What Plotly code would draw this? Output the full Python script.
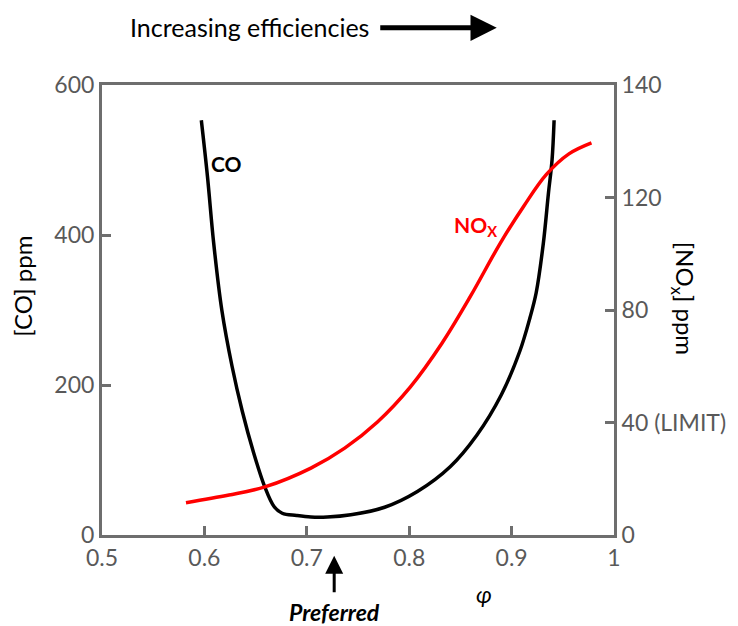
import plotly.graph_objects as go

# Equivalence ratio (phi) samples and emissions
phi_co = [0.597, 0.603, 0.609, 0.617, 0.627, 0.637, 0.648, 0.659, 0.668, 0.676,
          0.690, 0.704, 0.720, 0.743, 0.776, 0.808, 0.840, 0.866, 0.890, 0.908,
          0.918, 0.924, 0.931, 0.936, 0.9395, 0.9415]
co_ppm = [553, 478, 390, 300, 225, 165, 110, 64, 38, 29,
          26, 24, 24, 27, 37, 58, 91, 133, 187, 245,
          290, 323, 389, 456, 500, 553]

phi_nox = [0.582, 0.624, 0.659, 0.704, 0.737, 0.769, 0.801, 0.832, 0.860,
           0.889, 0.912, 0.934, 0.956, 0.978]
nox_ppm = [11.5, 14.2, 17.1, 23.8, 30.9, 40.2, 52.6, 68.2, 85,
           103.8, 117.0, 128.2, 135.5, 139.4]

x_ticks = [0.5, 0.6, 0.7, 0.8, 0.9, 1.0]
x_ticktext = ["0.5", "0.6", "0.7", "0.8", "0.9", "1"]
co_ticks = [0, 200, 400, 600]
nox_ticks = [0, 40, 80, 120, 160]
nox_ticktext = ["0", "40 (LIMIT)", "80", "120", "140"]

FONT = "Lato"
AXIS_GREY = "#6e6e6e"
TICK_GREY = "#595959"

fig = go.Figure()
fig.add_trace(go.Scatter(x=phi_co, y=co_ppm, mode="lines", name="CO",
                         line=dict(color="black", width=3.5, shape="spline", smoothing=1.0),
                         yaxis="y"))
fig.add_trace(go.Scatter(x=phi_nox, y=nox_ppm, mode="lines", name="NOx",
                         line=dict(color="#ff0000", width=3.5, shape="spline", smoothing=1.0),
                         yaxis="y2"))

axis_common = dict(showgrid=False, zeroline=False, showline=True, linecolor=AXIS_GREY,
                   linewidth=3, ticks="inside", ticklen=9, tickwidth=3, tickcolor=AXIS_GREY,
                   tickfont=dict(family=FONT, size=23, color=TICK_GREY))

fig.update_layout(
    width=738, height=626,
    margin=dict(l=102, r=120, t=85, b=91),
    paper_bgcolor="white", plot_bgcolor="white",
    showlegend=False,
    font=dict(family=FONT),
    xaxis=dict(range=[0.5, 1.0], tickvals=x_ticks, ticktext=x_ticktext,
               mirror=True, **axis_common),
    yaxis=dict(range=[0, 600], tickvals=co_ticks, **axis_common),
    yaxis2=dict(range=[0, 160], tickvals=nox_ticks, ticktext=nox_ticktext,
                overlaying="y", side="right", **axis_common),
)


def note(text, x, y, size, color="black", xref="paper", yref="paper", **kw):
    return dict(text=text, x=x, y=y, xref=xref, yref=yref, showarrow=False,
                xanchor=kw.pop("xanchor", "center"), yanchor="middle",
                font=dict(family=FONT, size=size, color=color), **kw)


annotations = [
    # axis titles
    note("[CO] ppm", -0.155, 0.553, 24, textangle=-90),
    note("[NO<sub>x</sub>] ppm", 1.135, 0.527, 24, textangle=90),
    note("<i>φ</i>", 0.746, -0.13, 23),
    # series labels
    note("<b>CO</b>", 0.622, 495, 21, xref="x", yref="y"),
    note("<b>NO<sub>X</sub></b>", 0.865, 110, 21, color="#ff0000", xref="x", yref="y2"),
    # preferred operating point
    dict(text="", x=0.4535, y=-0.046, xref="paper", yref="paper", ax=0, ay=38,
         showarrow=True, arrowhead=2, arrowsize=1.2, arrowwidth=3, arrowcolor="black"),
    note("<b><i>Preferred</i></b>", 0.4535, -0.171, 23),
    # efficiency trend
    note("Increasing efficiencies", 0.050, 1.129, 25, xanchor="left"),
    dict(text="", x=0.771, y=1.127, xref="paper", yref="paper", ax=-118, ay=0,
         showarrow=True, arrowhead=2, arrowsize=1.05, arrowwidth=5, arrowcolor="black"),
]
fig.update_layout(annotations=annotations)

fig.write_html("out.html")
